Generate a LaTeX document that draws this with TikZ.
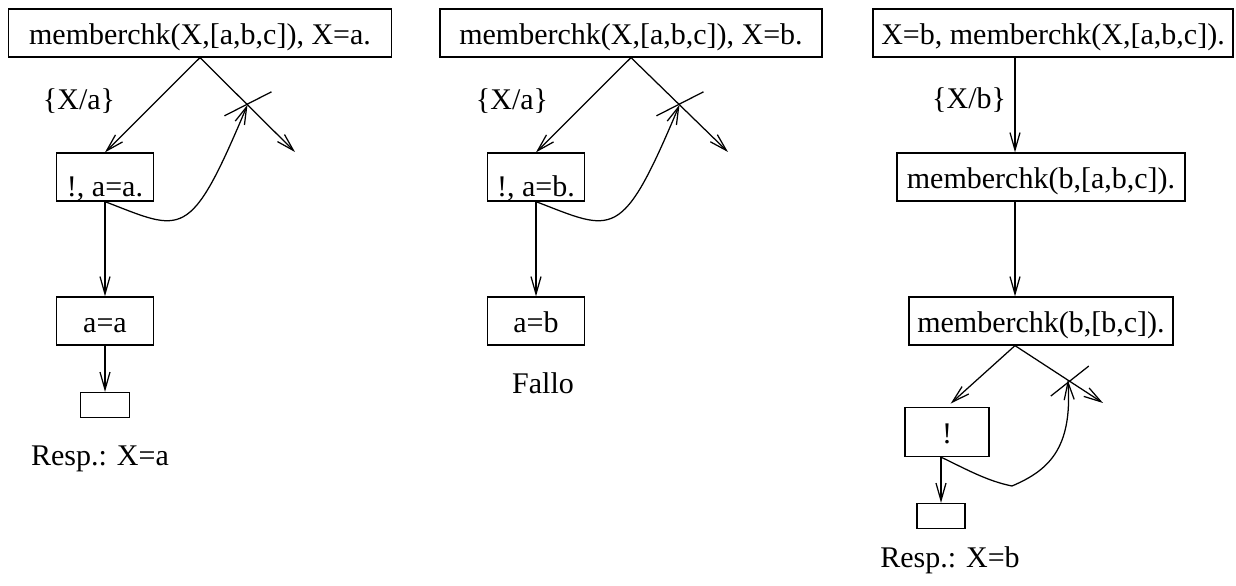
\documentclass[tikz,border=0pt]{standalone}
\usepackage{fontspec}
\setmainfont{Liberation Serif}
\usetikzlibrary{arrows.meta,calc}
\tikzset{
  goal/.style={draw, inner sep=0pt, minimum height=19.2pt, text height=9pt, text depth=0pt},
  leaf/.style={draw, inner sep=0pt, minimum width=19.6pt, minimum height=10pt},
  cut/.style={text height=16pt},
}
\begin{document}
\begin{tikzpicture}[>={Straight Barb[length=7pt,width=4pt]}, line width=0.5pt, font=\fontsize{12pt}{14pt}\selectfont]
        \def\x{0.4pt}
        \def\y{-0.4pt}
        \useasboundingbox (0,0) rectangle (1236*\x, 586*\y);
        \node [goal, minimum width=383*\x] (A0_0) at (200*\x, 33*\y) {memberchk(X,[a,b,c]), X=a.};
        \node [goal, cut, minimum width=97*\x] (A1_0) at (105*\x, 177*\y) {!, a=a.};
        \node [goal, minimum width=97*\x] (A2_0) at (105*\x, 321*\y) {a=a};
        \node [leaf] (A3_0) at (105*\x, 405*\y) {};
        \node (A4_0) at (100*\x, 459*\y) {Resp.: X=a};
        \node (B1_0) at (79*\x, 101*\y) {\{X/a\}};
        \coordinate (C0) at (295*\x, 152*\y);
        \coordinate (K0) at ($(A0_0.south)!0.5!(C0)$);
        \path (A0_0.south) edge [->] (A1_0.north);
        \path (A0_0.south) edge [->] (C0);
        \path (A1_0) edge [->] (A2_0);
        \path (A2_0) edge [->] (A3_0);
        \draw ([shift={(-23*\x,11*\y)}]K0) -- ([shift={(24*\x,-13*\y)}]K0);
        \draw [->] (A1_0.south) .. controls +(78*\x,30*\y) and +(-58*\x,138*\y) .. (K0);

        \node [goal, minimum width=382*\x] (A0_1) at (631*\x, 33*\y) {memberchk(X,[a,b,c]), X=b.};
        \node [goal, cut, minimum width=97*\x] (A1_1) at (536*\x, 177*\y) {!, a=b.};
        \node [goal, minimum width=97*\x] (A2_1) at (536*\x, 321*\y) {a=b};
        \node (A3_1) at (543*\x, 383*\y) {Fallo};
        \node (B1_1) at (512*\x, 101*\y) {\{X/a\}};
        \coordinate (C1) at (728*\x, 152*\y);
        \coordinate (K1) at ($(A0_1.south)!0.5!(C1)$);
        \path (A0_1.south) edge [->] (A1_1.north);
        \path (A0_1.south) edge [->] (C1);
        \path (A1_1) edge [->] (A2_1);
        \draw ([shift={(-23*\x,11*\y)}]K1) -- ([shift={(24*\x,-13*\y)}]K1);
        \draw [->] (A1_1.south) .. controls +(78*\x,30*\y) and +(-58*\x,138*\y) .. (K1);

        \node [goal, minimum width=360*\x] (A0_2) at (1053*\x, 33*\y) {X=b, memberchk(X,[a,b,c]).};
        \node [goal, minimum width=288*\x] (A1_2) at (1041*\x, 177*\y) {memberchk(b,[a,b,c]).};
        \node [goal, minimum width=264*\x] (A2_2) at (1041*\x, 321*\y) {memberchk(b,[b,c]).};
        \node [goal, minimum width=84*\x, minimum height=49*\x] (A3_2) at (947*\x, 432*\y) {!};
        \node [leaf, minimum width=48*\x] (A4_2) at (941*\x, 516*\y) {};
        \node (A5_2) at (950*\x, 560*\y) {Resp.: X=b};
        \coordinate (L2) at (1015*\x, 0);
        \coordinate (C2) at (1103*\x, 403*\y);
        \coordinate (M2) at (1012*\x, 486*\y);
        \coordinate (K2) at ($(A2_2.south -| L2)!0.6!(C2)$);
        \path (A0_2.south -| L2) edge [->] node [auto,swap,pos=0.45] {\{X/b\}} (A1_2.north -| L2);
        \path (A1_2.south -| L2) edge [->] (A2_2.north -| L2);
        \path (A2_2.south -| L2) edge [->,shorten >=2pt] (A3_2.north);
        \path (A2_2.south -| L2) edge [->] (C2);
        \path (A3_2.south -| A4_2) edge [->] (A4_2.north);
        \draw ([shift={(-17*\x,16*\y)}]K2) -- ([shift={(21*\x,-14*\y)}]K2);
        \draw [->] (A3_2.south -| A4_2) .. controls +(25*\x,12*\y) and +(-25*\x,-5*\y) .. (M2) .. controls +(35*\x,-15*\y) and +(5*\x,70*\y) .. (K2);
\end{tikzpicture}
\end{document}
